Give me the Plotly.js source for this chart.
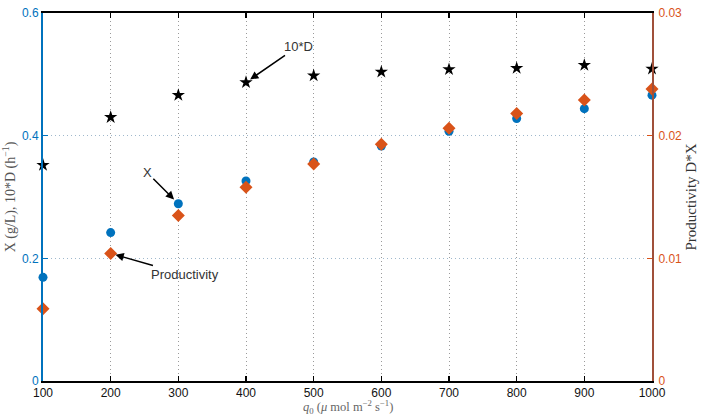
<!DOCTYPE html>
<html>
<head>
<meta charset="utf-8">
<script src="https://cdn.plot.ly/plotly-3.0.1.min.js"></script>
<style>html,body{margin:0;padding:0;background:#fff;}#chart{width:701px;height:418px;}</style>
</head>
<body>
<div id="chart"></div>
<script>
// Data
const lightIntensity = [100, 200, 300, 400, 500, 600, 700, 800, 900, 1000];
const tenD = [0.352, 0.430, 0.466, 0.487, 0.498, 0.504, 0.508, 0.510, 0.515, 0.509];
const biomassX = [0.169, 0.242, 0.289, 0.326, 0.357, 0.383, 0.407, 0.428, 0.444, 0.466];
const productivity = [0.0059, 0.0104, 0.0135, 0.0158, 0.0177, 0.0193, 0.0206, 0.0218, 0.0229, 0.0238];
const xTicks = [100, 200, 300, 400, 500, 600, 700, 800, 900, 1000];
const leftTicks = [0, 0.2, 0.4, 0.6];
const leftTickText = ['0', '0.2', '0.4', '0.6'];
const rightTicks = [0, 0.01, 0.02, 0.03];
const rightTickText = ['0', '0.01', '0.02', '0.03'];
const xTitle = '<i>q</i><sub>0</sub> (<i>μ</i> mol m<sup>−2</sup> s<sup>−1</sup>)';

const blue = '#0072BD';
const orange = '#D95319';
const serif = '"Liberation Serif", "DejaVu Serif", serif';
const sans = '"Liberation Sans", Arial, sans-serif';

const traces = [
  {x: lightIntensity, y: tenD, type: 'scatter', mode: 'markers', yaxis: 'y', cliponaxis: false,
   marker: {symbol: 'star', size: 10, color: '#000'}},
  {x: lightIntensity, y: biomassX, type: 'scatter', mode: 'markers', yaxis: 'y', cliponaxis: false,
   marker: {symbol: 'circle', size: 9, color: blue}},
  {x: lightIntensity, y: productivity, type: 'scatter', mode: 'markers', yaxis: 'y2', cliponaxis: false,
   marker: {symbol: 'diamond', size: 10, color: orange}}
];

const layout = {
  width: 701, height: 418,
  margin: {l: 43, r: 49, t: 13, b: 37},
  showlegend: false,
  plot_bgcolor: '#fff', paper_bgcolor: '#fff',
  xaxis: {
    range: [100, 1000], tickvals: xTicks, ticktext: xTicks.map(String),
    showline: true, linecolor: '#000', linewidth: 2, mirror: 'ticks',
    ticks: 'inside', ticklen: 5, tickcolor: '#000', tickwidth: 1.5,
    ticklabelstandoff: 0,
    showgrid: true, gridcolor: '#9a9a9a', griddash: '1px,3px', gridwidth: 1,
    zeroline: false,
    tickfont: {family: sans, size: 12, color: '#111'}
  },
  yaxis: {
    range: [0, 0.6], tickvals: leftTicks, ticktext: leftTickText,
    showline: true, linecolor: blue, linewidth: 2,
    ticks: 'inside', ticklen: 5, tickcolor: blue, tickwidth: 1.5,
    showgrid: true, gridcolor: '#9fb8cc', griddash: '1px,3px', gridwidth: 1,
    zeroline: false,
    tickfont: {family: sans, size: 12, color: blue},
    title: {text: 'X (g/L), 10*D (h<sup>−1</sup>)', font: {family: serif, size: 14, color: '#555'}, standoff: 3}
  },
  yaxis2: {
    range: [0, 0.03], tickvals: rightTicks, ticktext: rightTickText,
    overlaying: 'y', side: 'right',
    showline: true, linecolor: '#a0503a', linewidth: 2,
    ticks: 'inside', ticklen: 5, tickcolor: orange, tickwidth: 1.5,
    ticklabelstandoff: 2,
    showgrid: false, zeroline: false,
    tickfont: {family: sans, size: 12, color: orange},
    title: {text: 'Productivity D*X', font: {family: serif, size: 15, color: '#333'}, standoff: 4}
  },
  annotations: [
    {x: 0.5, y: 0, xref: 'paper', yref: 'paper', xanchor: 'center', yanchor: 'bottom', yshift: -37,
     text: xTitle, showarrow: false, font: {family: serif, size: 12.5, color: '#666'}},
    {x: lightIntensity[3], y: tenD[3], xref: 'x', yref: 'y', text: '10*D',
     showarrow: true, arrowhead: 2, arrowsize: 1.1, arrowwidth: 1.5, arrowcolor: '#000',
     ax: 52, ay: -36, standoff: 5, font: {family: sans, size: 13, color: '#333'}},
    {x: lightIntensity[2], y: biomassX[2], xref: 'x', yref: 'y', text: 'X',
     showarrow: true, arrowhead: 2, arrowsize: 1.1, arrowwidth: 1.5, arrowcolor: '#000',
     ax: -31, ay: -31, standoff: 6, font: {family: sans, size: 13, color: '#333'}},
    {x: lightIntensity[1], y: productivity[1], xref: 'x', yref: 'y2', text: 'Productivity',
     showarrow: true, arrowhead: 2, arrowsize: 1.1, arrowwidth: 1.5, arrowcolor: '#000',
     ax: 74, ay: 21, standoff: 5, font: {family: sans, size: 13, color: '#333'}}
  ]
};

Plotly.newPlot('chart', traces, layout, {staticPlot: true, displayModeBar: false});
</script>
</body>
</html>
